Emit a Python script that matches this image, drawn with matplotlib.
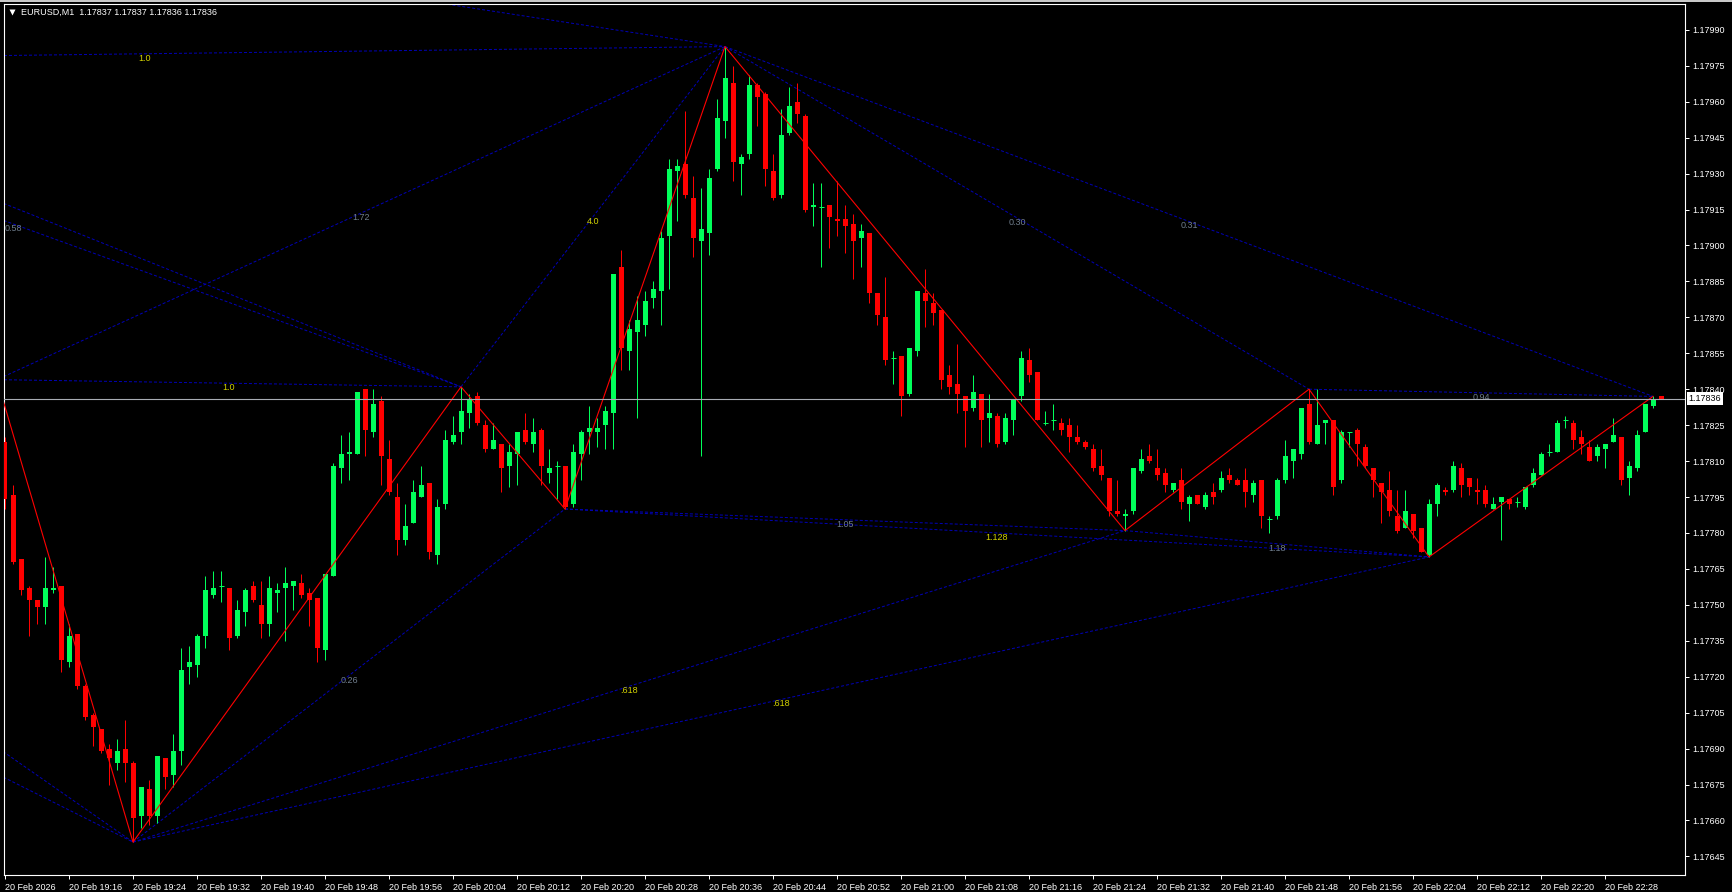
import numpy as np
import matplotlib
matplotlib.use('Agg')
import matplotlib.pyplot as plt
from matplotlib.patches import Rectangle

plt.rcParams['font.family'] = ['Liberation Sans', 'DejaVu Sans']
plt.rcParams['font.size'] = 6.5

symbol = 'EURUSD,M1'
day = '20 Feb'
year = 2026
first_bar = 19*60 + 8   # first visible bar is 19:08, one bar per minute

# OHLC, in points (1 point = 0.00001)
opens = [117818, 117796, 117769, 117757, 117752, 117749, 117756, 117758, 117726, 117738,
         117716, 117704, 117698, 117690, 117684, 117690, 117684, 117662, 117673, 117662,
         117686, 117679, 117689, 117724, 117725, 117737, 117754, 117758, 117757, 117737,
         117747, 117758, 117750, 117742, 117755, 117757, 117758, 117759, 117755, 117753,
         117731, 117762, 117807, 117813, 117813, 117840, 117822, 117835, 117811, 117795,
         117777, 117784, 117795, 117801, 117771, 117792, 117818, 117822, 117830, 117837,
         117825, 117815, 117817, 117808, 117813, 117823, 117817, 117823, 117805, 117808,
         117808, 117792, 117813, 117822, 117822, 117825, 117830, 117891, 117856, 117864,
         117867, 117878, 117881, 117904, 117931, 117934, 117920, 117902, 117905, 117932,
         117952, 117968, 117934, 117938, 117967, 117963, 117931, 117921, 117947, 117960,
         117954, 117916, 117916, 117917, 117911, 117911, 117909, 117903, 117905, 117880,
         117870, 117853, 117854, 117838, 117856, 117880, 117876, 117873, 117846, 117842,
         117837, 117832, 117838, 117828, 117829, 117818, 117827, 117837, 117852, 117847,
         117826, 117827, 117826, 117825, 117820, 117818, 117815, 117808, 117803, 117789,
         117787, 117789, 117806, 117812, 117807, 117805, 117798, 117802, 117792, 117796,
         117791, 117797, 117798, 117804, 117802, 117802, 117796, 117802, 117786, 117787,
         117802, 117810, 117813, 117834, 117817, 117826, 117827, 117802, 117822, 117823,
         117816, 117807, 117801, 117798, 117787, 117782, 117788, 117782, 117771, 117792,
         117798, 117798, 117807, 117803, 117798, 117798, 117790, 117793, 117794, 117793,
         117791, 117800, 117804, 117814, 117814, 117827, 117826, 117820, 117816, 117812,
         117815, 117818, 117820, 117803, 117807, 117822, 117833, 117837]
highs = [117820, 117800, 117769, 117758, 117752, 117770, 117766, 117758, 117742, 117738,
         117717, 117705, 117698, 117692, 117694, 117702, 117685, 117674, 117677, 117687,
         117686, 117696, 117732, 117733, 117738, 117762, 117764, 117764, 117757, 117752,
         117757, 117760, 117760, 117762, 117759, 117766, 117760, 117763, 117757, 117753,
         117763, 117809, 117821, 117822, 117839, 117840, 117840, 117837, 117819, 117801,
         117792, 117802, 117808, 117801, 117794, 117823, 117829, 117841, 117838, 117839,
         117827, 117826, 117817, 117817, 117822, 117830, 117828, 117824, 117815, 117810,
         117808, 117817, 117823, 117833, 117828, 117833, 117888, 117898, 117869, 117879,
         117881, 117885, 117906, 117936, 117936, 117956, 117929, 117924, 117932, 117961,
         117983, 117975, 117938, 117971, 117968, 117964, 117938, 117957, 117966, 117968,
         117955, 117926, 117926, 117917, 117927, 117917, 117913, 117909, 117905, 117880,
         117887, 117856, 117854, 117857, 117881, 117890, 117880, 117873, 117850, 117859,
         117837, 117846, 117838, 117838, 117830, 117830, 117836, 117856, 117857, 117847,
         117831, 117834, 117828, 117828, 117825, 117819, 117817, 117815, 117803, 117802,
         117790, 117807, 117815, 117817, 117815, 117807, 117801, 117807, 117796, 117796,
         117797, 117801, 117806, 117807, 117803, 117807, 117802, 117802, 117787, 117803,
         117819, 117815, 117832, 117840, 117840, 117827, 117827, 117823, 117822, 117824,
         117817, 117807, 117801, 117806, 117798, 117798, 117788, 117782, 117794, 117801,
         117799, 117810, 117809, 117803, 117803, 117800, 117795, 117795, 117794, 117795,
         117799, 117807, 117814, 117817, 117827, 117829, 117827, 117823, 117819, 117817,
         117817, 117828, 117820, 117810, 117823, 117834, 117837, 117837]
lows = [117790, 117767, 117754, 117737, 117742, 117742, 117755, 117722, 117724, 117715,
        117702, 117691, 117688, 117675, 117681, 117676, 117651, 117657, 117658, 117659,
        117673, 117674, 117683, 117717, 117720, 117732, 117753, 117751, 117731, 117736,
        117741, 117751, 117736, 117737, 117747, 117735, 117748, 117753, 117741, 117726,
        117727, 117762, 117801, 117802, 117813, 117812, 117820, 117800, 117796, 117771,
        117775, 117784, 117795, 117769, 117767, 117790, 117817, 117817, 117824, 117825,
        117814, 117815, 117797, 117799, 117800, 117817, 117814, 117800, 117801, 117794,
        117790, 117791, 117802, 117813, 117816, 117815, 117815, 117848, 117848, 117828,
        117862, 117874, 117867, 117882, 117910, 117920, 117895, 117812, 117896, 117931,
        117945, 117927, 117921, 117936, 117950, 117925, 117919, 117920, 117946, 117951,
        117914, 117908, 117891, 117899, 117904, 117897, 117886, 117891, 117876, 117867,
        117850, 117842, 117829, 117837, 117854, 117866, 117867, 117840, 117838, 117830,
        117816, 117831, 117816, 117818, 117816, 117817, 117821, 117835, 117843, 117827,
        117825, 117823, 117821, 117814, 117817, 117815, 117806, 117802, 117787, 117787,
        117781, 117788, 117805, 117809, 117802, 117797, 117797, 117790, 117785, 117792,
        117790, 117792, 117797, 117801, 117800, 117791, 117793, 117782, 117780, 117786,
        117801, 117803, 117811, 117817, 117817, 117817, 117796, 117801, 117816, 117808,
        117807, 117795, 117784, 117787, 117780, 117782, 117778, 117772, 117770, 117787,
        117796, 117797, 117795, 117796, 117792, 117791, 117790, 117777, 117790, 117791,
        117790, 117799, 117804, 117812, 117814, 117824, 117815, 117813, 117810, 117810,
        117807, 117818, 117800, 117796, 117806, 117822, 117832, 117836]
closes = [117794, 117768, 117756, 117752, 117749, 117757, 117757, 117727, 117737, 117716,
          117703, 117699, 117689, 117686, 117689, 117684, 117661, 117674, 117662, 117687,
          117678, 117689, 117723, 117726, 117737, 117756, 117757, 117758, 117736, 117748,
          117756, 117752, 117742, 117757, 117756, 117759, 117760, 117754, 117752, 117732,
          117763, 117808, 117813, 117814, 117839, 117823, 117834, 117812, 117797, 117777,
          117783, 117797, 117800, 117772, 117791, 117819, 117821, 117831, 117836, 117826,
          117815, 117819, 117807, 117814, 117822, 117818, 117822, 117808, 117807, 117808,
          117791, 117814, 117822, 117824, 117824, 117831, 117888, 117857, 117865, 117869,
          117877, 117882, 117903, 117932, 117933, 117921, 117903, 117907, 117928, 117953,
          117970, 117935, 117937, 117967, 117962, 117932, 117920, 117946, 117958, 117955,
          117915, 117917, 117916, 117912, 117910, 117908, 117902, 117906, 117880, 117871,
          117852, 117853, 117837, 117857, 117881, 117877, 117872, 117844, 117841, 117838,
          117831, 117839, 117827, 117830, 117817, 117828, 117836, 117853, 117846, 117827,
          117826, 117827, 117823, 117820, 117818, 117816, 117807, 117804, 117789, 117788,
          117788, 117807, 117811, 117810, 117804, 117800, 117801, 117793, 117795, 117792,
          117796, 117795, 117803, 117802, 117800, 117797, 117801, 117787, 117786, 117802,
          117812, 117815, 117832, 117818, 117825, 117827, 117799, 117822, 117822, 117817,
          117808, 117802, 117797, 117789, 117781, 117789, 117781, 117772, 117792, 117800,
          117797, 117808, 117800, 117799, 117797, 117792, 117792, 117795, 117792, 117793,
          117799, 117805, 117813, 117814, 117826, 117827, 117819, 117817, 117810, 117816,
          117817, 117821, 117802, 117808, 117821, 117834, 117836, 117836]

# zigzag pivots (bar, points); the first one sits just off the left edge
zz_bar = [-1, 16, 57, 70, 90, 140, 163, 178, 206]
zz_pts = [117844, 117651, 117841, 117790, 117983, 117781, 117840, 117770, 117837]

# dotted ratio lines between pivots, label drawn at the middle
fib_bar0 = [-55, -55, -61, -1, -1, -22, -30, -45, 57, 90, 90, 163, 70, 70, 140, 16, 16, 16]
fib_pts0 = [117977, 117977, 117999, 117844, 117844, 118040, 117758, 117753, 117841,
            117983, 117983, 117840, 117790, 117790, 117781, 117651, 117651, 117651]
fib_bar1 = [90, 57, 57, 90, 57, 90, 16, 16, 90, 163, 206, 206, 140, 178, 178, 70, 140, 178]
fib_pts1 = [117983, 117841, 117841, 117983, 117841, 117983, 117651, 117651, 117983,
            117840, 117837, 117837, 117781, 117770, 117770, 117790, 117781, 117770]
fib_text = ['1.0', '0.58', '', '1.72', '1.0', '', '', '', '4.0', '0.30', '0.31', '0.94',
            '1.05', '1.128', '1.18', '0.26', '.618', '.618']
fib_gold = [1, 0, 0, 0, 1, 0, 0, 0, 1, 0, 0, 0, 0, 1, 0, 0, 1, 1]

bid_pts = 117836

GREEN = '#00ff5a'
RED = '#ff0000'
BLUE = '#0000b4'

W, H = 1733, 892
fig = plt.figure(figsize=(W/100, H/100), dpi=100, facecolor='black')
ax = fig.add_axes([4/W, 17/H, 1681/W, 871/H], facecolor='black')

o = np.array(opens)/1e5
h = np.array(highs)/1e5
l = np.array(lows)/1e5
c = np.array(closes)/1e5
x = np.arange(len(o))
col = np.where(c >= o, GREEN, RED)

# ratio lines
for k in range(len(fib_text)):
    xs = [fib_bar0[k], fib_bar1[k]]
    ys = [fib_pts0[k]/1e5, fib_pts1[k]/1e5]
    ax.plot(xs, ys, color=BLUE, lw=0.72, ls=(0, (3, 2)), zorder=1)
    if fib_text[k]:
        tc = '#d2d200' if fib_gold[k] else '#6f7d8c'
        ax.text(np.mean(xs), np.mean(ys), fib_text[k], ha='center', va='top',
                color=tc, clip_on=True, zorder=2)

# candles
ax.vlines(x, l, h, colors=col, lw=0.72, zorder=3)
ax.bar(x, np.abs(c-o), width=0.625, bottom=np.minimum(o, c), color=col, lw=0, zorder=4)
doji = c == o
ax.hlines(o[doji], x[doji]-0.3125, x[doji]+0.3125, colors=GREEN, lw=0.72, zorder=4)

# zigzag
ax.plot(zz_bar, np.array(zz_pts)/1e5, color=RED, lw=0.8, zorder=5)

# bid line
bid = bid_pts/1e5
ax.axhline(bid, color='#a8acb4', lw=0.8, zorder=6)

# window: bar 0 at 5px, 8px per bar, 2.396px per point
ax.set_xlim(-0.125, 210)
ax.set_ylim(1.1763725, 1.1800077)

tick_bars = np.arange(0, 201, 8)
tick_lbl = []
for b in tick_bars:
    m = first_bar + b
    if b == 0:
        tick_lbl.append('%s %d' % (day, year))
    else:
        tick_lbl.append('%s %02d:%02d' % (day, m//60, m % 60))
ax.set_xticks(tick_bars)
ax.set_xticklabels(tick_lbl, ha='left')
ax.tick_params(axis='x', colors='white', length=3, width=0.72, pad=3)

ax.yaxis.tick_right()
yt = np.arange(117645, 117991, 15)/1e5
ax.set_yticks(yt)
ax.set_yticklabels(['%.5f' % v for v in yt])
ax.tick_params(axis='y', colors='white', length=3, width=0.72, pad=2)

for s in ax.spines.values():
    s.set_color('white')
    s.set_linewidth(0.8)

# bid price box on the scale
ax.annotate('%.5f' % bid, xy=(1, bid), xycoords=('axes fraction', 'data'),
            xytext=(2.5, 0), textcoords='offset points', ha='left', va='center',
            color='black', bbox=dict(boxstyle='square,pad=0.2', fc='white', ec='none'),
            annotation_clip=False, zorder=10)

# header with last bar OHLC
ttl = '%s  %.5f %.5f %.5f %.5f' % (symbol, o[-1], h[-1], l[-1], c[-1])
ax.text(16.7/1681, 1-8.7/871, ttl, transform=ax.transAxes, color='white',
        ha='left', va='center', zorder=10)
ax.plot([8/1681], [1-8.2/871], marker='v', ms=4, color='white', mec='none',
        transform=ax.transAxes, clip_on=False, zorder=10)

fig.patches.append(Rectangle((0, 1-2/H), 1, 2/H, transform=fig.transFigure,
                             fc='#c8c8c8', ec='none'))

fig.savefig('out.png', dpi=100, facecolor='black')
